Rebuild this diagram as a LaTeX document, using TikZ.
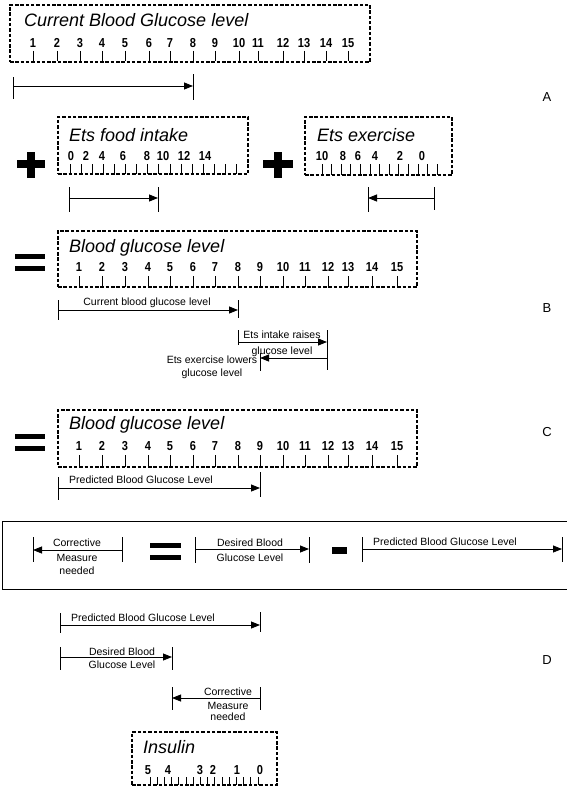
\documentclass[tikz,border=0pt]{standalone}
\usepackage{fontspec}
\setmainfont{Liberation Sans}
\newfontfamily\numf[FakeStretch=0.85]{Liberation Sans}
\usetikzlibrary{arrows.meta}
\begin{document}
\begin{tikzpicture}[x=1pt,y=-1pt,
  rulerbox/.style={draw, line width=1.3pt, dash pattern=on 3.5pt off 1.8pt, inner sep=0pt, outer sep=0pt, anchor=north west},
  ttl/.style={font=\fontsize{18}{20}\selectfont\itshape, anchor=base west, inner sep=0pt},
  num/.style={font=\numf\bfseries\fontsize{13}{14}\selectfont, anchor=base, inner sep=0pt},
  tick/.style={line width=0.8pt},
  bar/.style={line width=0.7pt},
  dimarr/.style={line width=0.8pt, -{Triangle[length=9pt,width=7pt]}},
  lbl/.style={font=\fontsize{10.5}{12}\selectfont, inner sep=0pt, anchor=base},
  sec/.style={font=\fontsize{13}{14}\selectfont, anchor=center, inner sep=0pt},
  heavy/.style={fill=black},
  frame/.style={draw, line width=0.6pt, inner sep=0pt, outer sep=0pt, anchor=north west}
]
\useasboundingbox (0,0) rectangle (567,792);
\fill[white] (0,0) rectangle (567,792);

% ---------------- A ----------------
\node[rulerbox, minimum width=360pt, minimum height=57pt] (boxA) at (10,5) {};
\node[ttl] (ttlA) at (24,27) {Current Blood Glucose level};
\foreach \x/\n in {33/1,57/2,80/3,102/4,125/5,149/6,170/7,193/8,215/9,239/10,258/11,283/12,304/13,326/14,348/15}{
  \node[num] (a\n) at (\x,48) {\n};
  \draw[tick] (\x,51) -- (\x,61);
}
\coordinate (aL) at (13,86); \coordinate (aR) at (193,86);
\draw[bar] (13,77) -- (13,99); \draw[bar] (193,74) -- (193,100);
\draw[dimarr] (aL) -- (aR);
\node[sec] (secA) at (547,97) {A};

% ---------------- plus / food / exercise ----------------
\fill[heavy] (17,160) rectangle (45,168);
\fill[heavy] (27,152) rectangle (35,178);
\node[rulerbox, minimum width=190pt, minimum height=57pt] (boxF) at (58,117) {};
\node[ttl] (ttlF) at (69,141) {Ets food intake};
\foreach \x/\n in {71/0,86/2,102/4,123/6,147/8,163/10,184/12,205/14}{
  \node[num] (f\n) at (\x,160) {\n};
}
\foreach \i in {0,...,15}{
  \draw[tick] ({70+\i*11.1},164) -- ({70+\i*11.1},174);
}
\fill[heavy] (263,160) rectangle (293,168);
\fill[heavy] (274,152) rectangle (282,178);
\node[rulerbox, minimum width=147pt, minimum height=58pt] (boxE) at (305,117) {};
\node[ttl] (ttlE) at (317,141) {Ets exercise};
\foreach \x/\n in {322/10,343/8,358/6,375/4,400/2,422/0}{
  \node[num] (e\n) at (\x,160) {\n};
}
\foreach \i in {0,...,12}{
  \draw[tick] ({322+\i*9.6},164) -- ({322+\i*9.6},175);
}
\coordinate (fL) at (69,198); \coordinate (fR) at (158,198);
\draw[bar] (69,187) -- (69,212); \draw[bar] (158,187) -- (158,212);
\draw[dimarr] (fL) -- (fR);
\coordinate (eL) at (368,198); \coordinate (eR) at (434,198);
\draw[bar] (368,187) -- (368,212); \draw[bar] (434,187) -- (434,210);
\draw[dimarr] (eR) -- (eL);

% ---------------- B ----------------
\fill[heavy] (15,254) rectangle (45,259);
\fill[heavy] (15,266) rectangle (45,271);
\node[rulerbox, minimum width=359pt, minimum height=56pt] (boxB) at (58,231) {};
\node[ttl] (ttlB) at (69,252) {Blood glucose level};
\foreach \x/\n in {79/1,102/2,125/3,148/4,170/5,193/6,215/7,238/8,260/9,283/10,305/11,328/12,348/13,372/14,397/15}{
  \node[num] (b\n) at (\x,271) {\n};
  \draw[tick] (\x,276) -- (\x,287);
}
\coordinate (bL) at (58,310); \coordinate (bR) at (238,310);
\draw[bar] (58,300) -- (58,320); \draw[bar] (238,300) -- (238,318);
\draw[dimarr] (bL) -- (bR);
\node[lbl] (lbB) at (147,305) {Current blood glucose level};
\coordinate (iL) at (238,342); \coordinate (iR) at (327,342);
\draw[bar] (238,330) -- (238,345); \draw[bar] (327,330) -- (327,355);
\draw[dimarr] (iL) -- (iR);
\node[lbl] (lbI1) at (282,338) {Ets intake raises};
\node[lbl] (lbI2) at (282,354) {glucose level};
\coordinate (xL) at (260,358); \coordinate (xR) at (327,358);
\draw[bar] (260,353) -- (260,371); \draw[bar] (327,353) -- (327,370);
\draw[dimarr] (xR) -- (xL);
\node[lbl] (lbX1) at (212,363) {Ets exercise lowers};
\node[lbl] (lbX2) at (212,376) {glucose level};
\node[sec] (secB) at (547,308) {B};

% ---------------- C ----------------
\fill[heavy] (15,434) rectangle (45,439);
\fill[heavy] (15,446) rectangle (45,451);
\node[rulerbox, minimum width=359pt, minimum height=57pt] (boxC) at (58,410) {};
\node[ttl] (ttlC) at (69,429) {Blood glucose level};
\foreach \x/\n in {79/1,102/2,125/3,148/4,170/5,193/6,215/7,238/8,260/9,283/10,305/11,328/12,348/13,372/14,397/15}{
  \node[num] (c\n) at (\x,450) {\n};
  \draw[tick] (\x,455) -- (\x,467);
}
\coordinate (cL) at (58,488); \coordinate (cR) at (260,488);
\draw[bar] (58,477) -- (58,500); \draw[bar] (260,472) -- (260,497);
\draw[dimarr] (cL) -- (cR);
\node[lbl] (lbC) at (141,483) {Predicted Blood Glucose Level};
\node[sec] (secC) at (547,432) {C};

% ---------------- equation frame ----------------
\node[frame, minimum width=570pt, minimum height=68pt] (eqframe) at (2,521) {};
\coordinate (qL) at (33,550); \coordinate (qR) at (122,550);
\draw[bar] (33,537) -- (33,562); \draw[bar] (122,537) -- (122,562);
\draw[dimarr] (qR) -- (qL);
\node[lbl] (lbQ1) at (77,546) {Corrective};
\node[lbl] (lbQ2) at (77,561) {Measure};
\node[lbl] (lbQ3) at (77,574) {needed};
\fill[heavy] (150,543) rectangle (181,548);
\fill[heavy] (150,555) rectangle (181,560);
\coordinate (dL) at (195,549); \coordinate (dR) at (309,549);
\draw[bar] (195,537) -- (195,563); \draw[bar] (309,537) -- (309,563);
\draw[dimarr] (dL) -- (dR);
\node[lbl] (lbD1) at (250,546) {Desired Blood};
\node[lbl] (lbD2) at (250,561) {Glucose Level};
\fill[heavy] (332,547) rectangle (347,554);
\coordinate (pL) at (362,549); \coordinate (pR) at (562,549);
\draw[bar] (362,537) -- (362,562); \draw[bar] (562,537) -- (562,562);
\draw[dimarr] (pL) -- (pR);
\node[lbl] (lbP) at (445,545) {Predicted Blood Glucose Level};

% ---------------- D ----------------
\coordinate (p2L) at (60,625); \coordinate (p2R) at (260,625);
\draw[bar] (60,613) -- (60,633); \draw[bar] (260,612) -- (260,632);
\draw[dimarr] (p2L) -- (p2R);
\node[lbl] (lbP2) at (143,621) {Predicted Blood Glucose Level};
\coordinate (d2L) at (60,657); \coordinate (d2R) at (172,657);
\draw[bar] (60,647) -- (60,670); \draw[bar] (172,647) -- (172,670);
\draw[dimarr] (d2L) -- (d2R);
\node[lbl] (lbD3) at (122,655) {Desired Blood};
\node[lbl] (lbD4) at (122,668) {Glucose Level};
\coordinate (q2L) at (172,698); \coordinate (q2R) at (260,698);
\draw[bar] (172,687) -- (172,710); \draw[bar] (260,687) -- (260,710);
\draw[dimarr] (q2R) -- (q2L);
\node[lbl] (lbQ4) at (228,695) {Corrective};
\node[lbl] (lbQ5) at (228,709) {Measure};
\node[lbl] (lbQ6) at (228,720) {needed};
\node[sec] (secD) at (547,660) {D};

\node[rulerbox, minimum width=145pt, minimum height=53pt] (boxI) at (132,732) {};
\node[ttl] (ttlI) at (143,753) {Insulin};
\foreach \x/\n in {148/5,168/4,200/3,213/2,237/1,260/0}{
  \node[num] (i\n) at (\x,774) {\n};
}
\foreach \i in {0,...,15}{
  \draw[tick] ({150+\i*7.2},777) -- ({150+\i*7.2},785);
}
\end{tikzpicture}
\end{document}
